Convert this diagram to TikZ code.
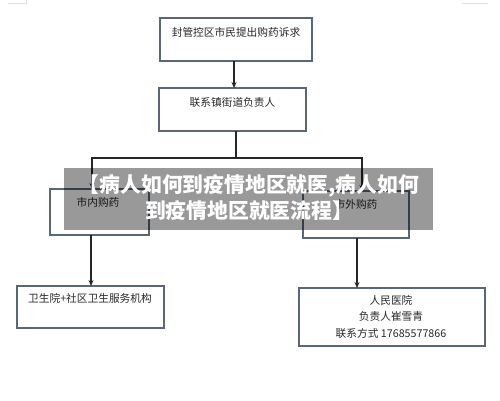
\documentclass[tikz,border=0pt]{standalone}
\usepackage{fontspec}
\setmainfont{Noto Sans CJK SC}
\usetikzlibrary{arrows.meta}
\definecolor{boxc}{RGB}{88,104,122}
\definecolor{txtc}{RGB}{40,40,40}
\tikzset{
  box/.style={draw=boxc, line width=1.7pt, fill=white, minimum width=#1, inner sep=0pt},
  lbl/.style={font=\fontsize{10.7}{13}\selectfont, text=txtc, inner sep=0pt, align=center},
  conn/.style={draw=black!85, line width=1.1pt},
  arr/.style={conn, -{Stealth[length=6pt,width=5pt]}},
  band/.style={fill=black, fill opacity=0.40, draw=none},
  bandtxt/.style={font=\fontsize{20.8}{26}\selectfont\bfseries, text=white, align=center, inner sep=0pt}
}
\begin{document}
\begin{tikzpicture}[x=1pt,y=-1pt]
\useasboundingbox (0,0) rectangle (500,400);
\draw[black!12, line width=1pt] (8,3) -- (26,3) -- (26,0);
\draw[black!12, line width=1pt] (462,3) -- (488,3);
% boxes
\node[box=152pt, minimum height=43pt] (b1) at (236,39.5) {};
\node[box=147pt, minimum height=43pt] (b2) at (232.5,109.5) {};
\node[box=99pt, minimum height=46pt] (b3) at (99.5,212) {};
\node[box=106pt, minimum height=47pt] (b4) at (356,214.5) {};
\node[box=147pt, minimum height=42pt] (b5) at (90.5,307) {};
\node[box=186pt, minimum height=58pt] (b6) at (392,317) {};
% labels
\node[lbl] (t1) at (236,32) {封管控区市民提出购药诉求};
\node[lbl] (t2) at (232.5,102) {联系镇街道负责人};
\node[lbl] (t3) at (98,202) {市内购药};
\node[lbl] (t4) at (356,204) {市外购药};
\node[lbl] (t5) at (90,298) {卫生院+社区卫生服务机构};
\node[lbl] (t6a) at (391,300) {人民医院};
\node[lbl] (t6b) at (391,316) {负责人崔雪青};
\node[lbl] (t6c) at (391,333) {联系方式 17685577866};
% connectors
\coordinate (c1) at (234,61);
\coordinate (c2) at (234,88);
\draw[arr] (c1) -- (c2);
\coordinate (j0) at (236,131);
\coordinate (j) at (236,158);
\coordinate (jl) at (92,158);
\coordinate (jr) at (362,158);
\coordinate (e3) at (92,189);
\coordinate (e4) at (362,191);
\draw[conn] (j0) -- (j);
\draw[arr] (j) -- (jl) -- (e3);
\draw[arr] (j) -- (jr) -- (e4);
\coordinate (s3) at (91,235);
\coordinate (s5) at (91,286);
\draw[arr] (s3) -- (s5);
\coordinate (s4) at (357,238);
\coordinate (s6) at (357,288);
\draw[arr] (s4) -- (s6);
% overlay band
\fill[band] (64,168) rectangle (433,230);
\node[bandtxt] (ov) at (249,198) {【病人如何到疫情地区就医,病人如何\\到疫情地区就医流程】};
\end{tikzpicture}
\end{document}
